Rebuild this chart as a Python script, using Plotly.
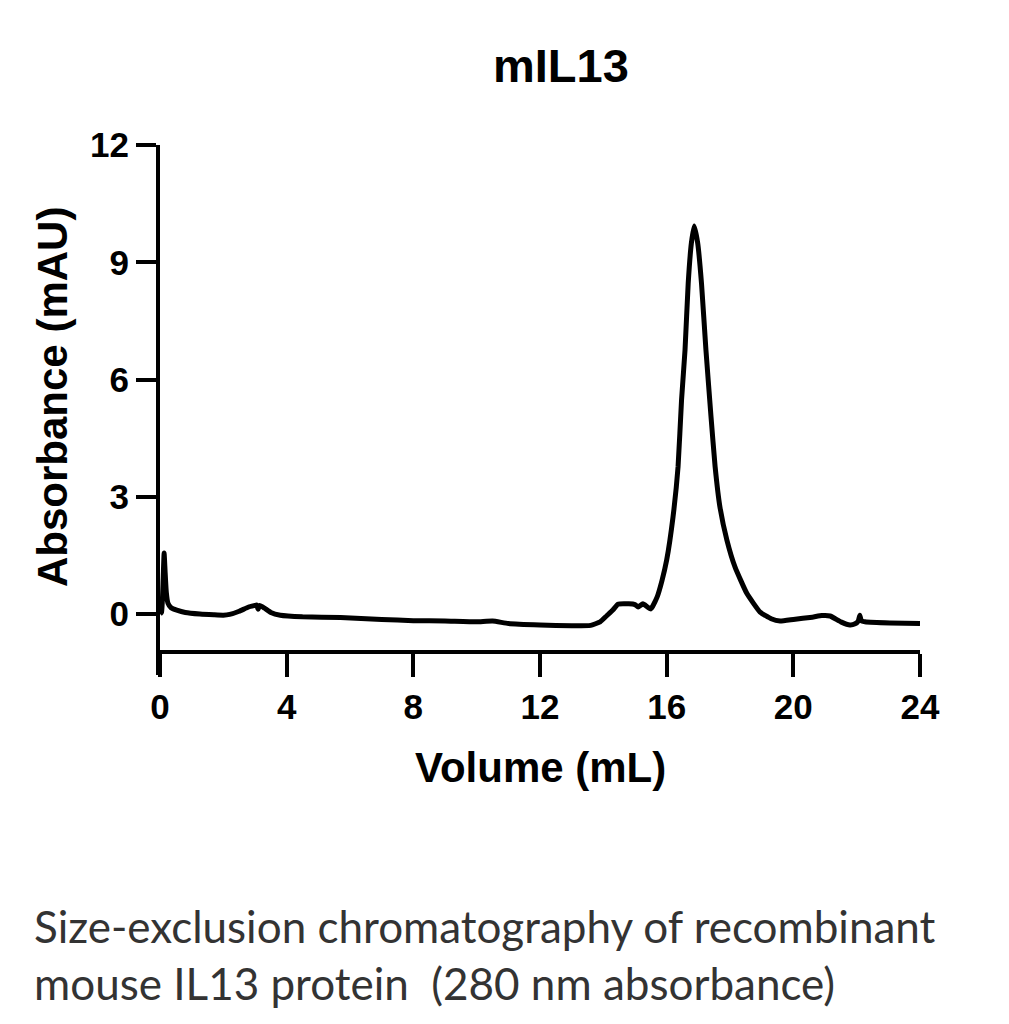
import plotly.graph_objects as go

# Data
volume_ml = [0.00, 0.05, 0.10, 0.13, 0.16, 0.20, 0.25, 0.35, 0.53, 0.80, 1.26, 1.70, 2.00, 2.20,
             2.50, 2.80, 3.00, 3.05, 3.10, 3.15, 3.30, 3.50, 3.80, 4.50, 5.70, 7.00, 8.00, 9.00,
             10.00, 10.50, 11.00, 12.00, 13.00, 13.60, 13.90, 14.10, 14.30, 14.46, 14.80, 15.00,
             15.10, 15.25, 15.50, 15.70, 15.85, 16.00, 16.20, 16.36, 16.47, 16.58, 16.68, 16.78,
             16.87, 16.98, 17.10, 17.24, 17.40, 17.53, 17.68, 17.90, 18.16, 18.53, 18.95, 19.30,
             19.58, 20.00, 20.60, 20.90, 21.16, 21.50, 21.79, 21.95, 22.05, 22.10, 22.15, 22.26,
             23.05, 24.00]
absorbance_mau = [0.00, 0.05, 0.90, 1.56, 1.10, 0.55, 0.28, 0.16, 0.10, 0.04, 0.00, -0.02, -0.03, -0.01,
                  0.07, 0.18, 0.22, 0.23, 0.12, 0.22, 0.15, 0.04, -0.03, -0.07, -0.09, -0.14, -0.17, -0.18,
                  -0.20, -0.18, -0.24, -0.28, -0.30, -0.29, -0.20, -0.05, 0.10, 0.25, 0.26, 0.24,
                  0.18, 0.26, 0.13, 0.44, 0.85, 1.38, 2.48, 3.77, 5.48, 6.76, 8.46, 9.49,
                  9.93, 9.49, 8.46, 6.76, 5.05, 3.77, 2.75, 1.90, 1.20, 0.53, 0.05, -0.12,
                  -0.18, -0.14, -0.08, -0.04, -0.05, -0.20, -0.28, -0.25, -0.18, -0.03, -0.18, -0.20,
                  -0.23, -0.24]

x_ticks = [0, 4, 8, 12, 16, 20, 24]
y_ticks = [0, 3, 6, 9, 12]

title_text = "mIL13"
x_title = "Volume (mL)"
y_title = "Absorbance (mAU)"
caption_lines = ["Size-exclusion chromatography of recombinant",
                 "mouse IL13 protein  (280 nm absorbance)"]

Y_MIN, Y_MAX = -1.56, 12
X_AXIS_AT = -0.97

fig = go.Figure()
fig.add_trace(go.Scatter(x=volume_ml, y=absorbance_mau, mode="lines",
                         line=dict(color="black", width=5, shape="spline", smoothing=0.4),
                         showlegend=False, hoverinfo="skip"))

bold = "Liberation Sans"
fig.update_layout(
    width=1009, height=1024,
    margin=dict(l=160, r=89, t=145, b=349),
    paper_bgcolor="white", plot_bgcolor="white",
    xaxis=dict(range=[0, 24], tickvals=x_ticks, showgrid=False, zeroline=False,
               showline=True, linecolor="black", linewidth=4,
               ticks="outside", ticklen=23, tickwidth=3.5, tickcolor="black",
               anchor="free", position=(X_AXIS_AT - Y_MIN) / (Y_MAX - Y_MIN),
               tickfont=dict(family=bold, size=35, color="black", weight="bold")),
    yaxis=dict(range=[Y_MIN, Y_MAX], tickvals=y_ticks, showgrid=False, zeroline=False,
               showline=True, linecolor="black", linewidth=4,
               ticks="outside", ticklen=20, tickwidth=3.5, tickcolor="black",
               tickfont=dict(family=bold, size=35, color="black", weight="bold")),
)

annotations = [
    dict(text=title_text, xref="paper", yref="paper", x=(561 - 160) / 760, y=(675 - 66) / 530,
         xanchor="center", yanchor="middle", showarrow=False,
         font=dict(family=bold, size=47, color="black", weight="bold")),
    dict(text=x_title, xref="paper", yref="paper", x=(540 - 160) / 760, y=(675 - 767) / 530,
         xanchor="center", yanchor="middle", showarrow=False,
         font=dict(family=bold, size=42, color="black", weight="bold")),
    dict(text=y_title, xref="paper", yref="paper", x=(52 - 160) / 760, y=(675 - 397) / 530,
         xanchor="center", yanchor="middle", showarrow=False, textangle=-90,
         font=dict(family=bold, size=42, color="black", weight="bold")),
    dict(text="<br>".join(caption_lines), xref="paper", yref="paper",
         x=(32 - 160) / 760, y=(675 - 954) / 530, align="left",
         xanchor="left", yanchor="middle", showarrow=False,
         font=dict(family="Lato", size=44, color="#333333")),
]
fig.update_layout(annotations=annotations)

fig.write_html("out.html")
